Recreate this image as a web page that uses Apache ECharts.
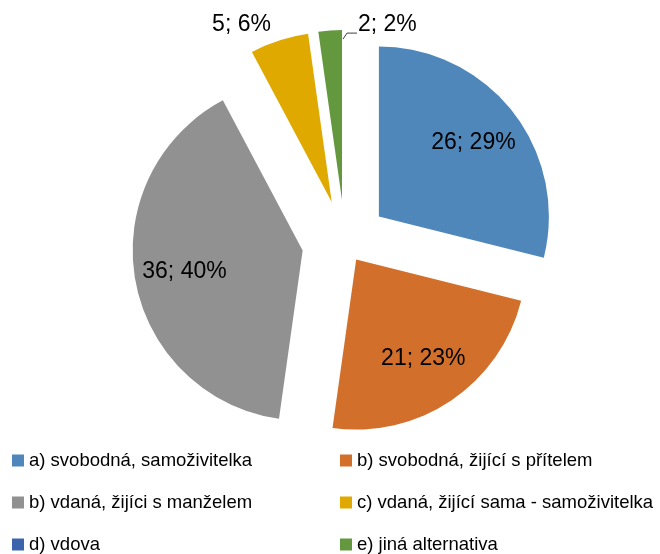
<!DOCTYPE html>
<html>
<head>
<meta charset="utf-8">
<script src="https://cdn.jsdelivr.net/npm/echarts@6/dist/echarts.min.js"></script>
<style>
  html, body { margin: 0; padding: 0; background: #fff; }
  #pie { width: 660px; height: 554px; }
</style>
</head>
<body>
<div id="pie"></div>
<script>
// data
const categories = [
  'a) svobodná, samoživitelka',
  'b) svobodná, žijící s přítelem',
  'b) vdaná, žijíci s manželem',
  'c) vdaná, žijící sama - samoživitelka',
  'd) vdova',
  'e) jiná alternativa'
];
const counts = [26, 21, 36, 5, 0, 2];
const colors = ['#4f87ba', '#d16f2b', '#919191', '#e0a900', '#3c64ac', '#63983e'];
const leftLegend = [0, 2, 4];
const rightLegend = [1, 3, 5];

// slices pulled out less than the others
const nearSlices = [1];
const farOffset = 43, nearOffset = 20;
const center = [345, 243];
const radius = 170;
const labelPush = 32;
const font = 'Liberation Sans';

const total = counts.reduce((a, b) => a + b, 0);
// mid angle in radians, clockwise from 12 o'clock
const midAngle = (i) => {
  let start = 0;
  for (let k = 0; k < i; k++) start += counts[k];
  return (start + counts[i] / 2) / total * 2 * Math.PI;
};
const isNear = (i) => nearSlices.indexOf(i) >= 0;
const pushInside = (i) => ({
  dx: labelPush * Math.sin(midAngle(i)),
  dy: -labelPush * Math.cos(midAngle(i))
});

const baseSeries = {
  type: 'pie',
  center: center,
  radius: radius,
  startAngle: 90,
  clockwise: true,
  selectedMode: 'multiple',
  percentPrecision: 0,
  avoidLabelOverlap: false,
  silent: true,
  animation: false,
  itemStyle: { borderWidth: 0 },
  select: { itemStyle: { borderWidth: 0 } },
  emphasis: { disabled: true },
  label: {
    formatter: '{c}; {d}%',
    color: '#000',
    fontFamily: font,
    fontSize: 23,
    distanceToLabelLine: 3
  },
  labelLine: { length: 17, length2: 0, lineStyle: { color: '#404040', width: 1 } }
};

// far exploded slices
const farData = categories.map((name, i) => {
  const show = !isNear(i) && counts[i] > 0;
  return {
    name: name,
    value: counts[i],
    selected: show,
    itemStyle: { color: show ? colors[i] : 'rgba(0,0,0,0)' },
    label: { show: show && i !== 5, position: i === 3 ? 'outside' : 'inside' },
    labelLine: { show: false }
  };
});

// near exploded slice, plus the label with leader of the thin green slice
const nearData = categories.map((name, i) => ({
  name: name,
  value: counts[i],
  selected: isNear(i),
  itemStyle: { color: isNear(i) ? colors[i] : 'rgba(0,0,0,0)' },
  label: { show: isNear(i) || i === 5, position: isNear(i) ? 'inside' : 'outside' },
  labelLine: { show: i === 5 }
}));

const legendBase = {
  orient: 'vertical',
  top: 451,
  height: 110,
  padding: 0,
  itemGap: 23,
  itemWidth: 12,
  itemHeight: 12,
  icon: 'rect',
  selectedMode: false,
  textStyle: { color: '#000', fontFamily: font, fontSize: 18.5, lineHeight: 18 }
};

const option = {
  backgroundColor: '#fff',
  animation: false,
  legend: [
    Object.assign({}, legendBase, {
      left: 12,
      data: leftLegend.map(i => ({ name: categories[i], itemStyle: { color: colors[i] } }))
    }),
    Object.assign({}, legendBase, {
      left: 340,
      data: rightLegend.map(i => ({ name: categories[i], itemStyle: { color: colors[i] } }))
    })
  ],
  series: [
    Object.assign({}, baseSeries, {
      name: 'far',
      selectedOffset: farOffset,
      data: farData,
      labelLayout: (p) => (p.dataIndex === 3 ? {} : pushInside(p.dataIndex))
    }),
    Object.assign({}, baseSeries, {
      name: 'near',
      selectedOffset: nearOffset,
      data: nearData,
      labelLayout: (p) => {
        const i = p.dataIndex;
        if (i !== 5) return pushInside(i);
        // right top corner of the green slice
        const a = midAngle(i);
        const tx = center[0] + farOffset * Math.sin(a);
        const ty = center[1] - farOffset * Math.cos(a) - radius;
        return {
          x: tx + 16,
          y: ty - 5,
          align: 'left',
          verticalAlign: 'middle',
          labelLinePoints: [[tx + 1, ty + 9], [tx + 5, ty + 3], [tx + 15, ty + 3]]
        };
      }
    })
  ]
};

const chart = echarts.init(document.getElementById('pie'));
chart.setOption(option);
</script>
</body>
</html>
